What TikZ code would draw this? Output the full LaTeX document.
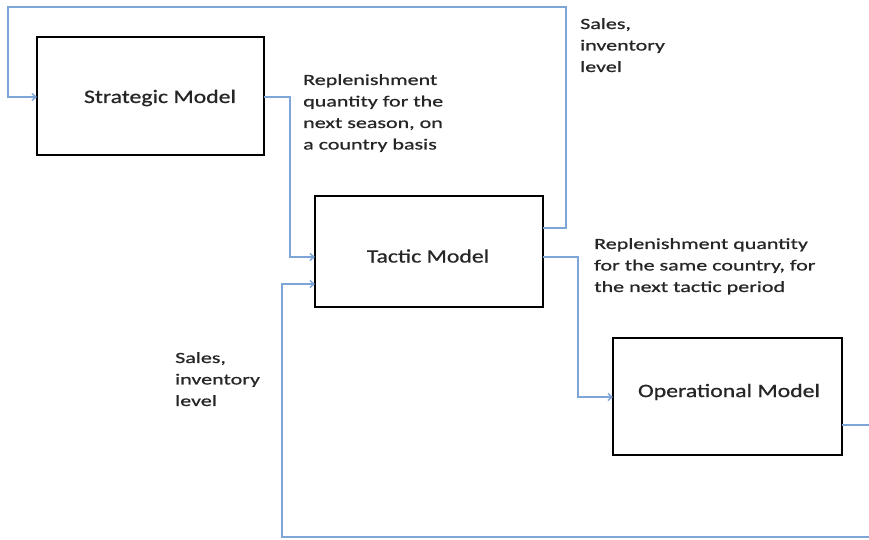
\documentclass[tikz,border=0pt]{standalone}
\usepackage{fontspec}
\setmainfont{Carlito}
\newfontfamily\lblfont{Carlito}[FakeStretch=1.42,FakeBold=0.8]
\newfontfamily\titlefont{Carlito}[FakeStretch=1.25,FakeBold=0.8]
\usetikzlibrary{arrows.meta}
\begin{document}
\begin{tikzpicture}[x=1pt,y=-1pt]
\definecolor{lineblue}{RGB}{125,165,215}
\tikzset{modelbox/.style={draw=black,line width=2pt,inner sep=0pt},
  flow/.style={draw=lineblue,line width=1.4pt,-{Straight Barb[length=4pt,width=7pt]}},
  lbl/.style={font=\lblfont\fontsize{15.5}{21.5}\selectfont,align=left,anchor=north west,inner sep=0pt,text=black!85},
  title/.style={font=\titlefont\fontsize{19}{22}\selectfont,text=black!85,inner sep=0pt}}
\path[use as bounding box] (0,0) rectangle (869,539);
\clip (0,0) rectangle (869,539);
% boxes
\draw[modelbox] (37,37) rectangle (264,155);
\draw[modelbox] (315,196) rectangle (543,307);
\draw[modelbox] (613,338) rectangle (842,455);
\coordinate (sL) at (37,97);
\coordinate (sR) at (264,97);
\coordinate (tL1) at (315,257);
\coordinate (tL2) at (315,284);
\coordinate (tR1) at (543,228);
\coordinate (tR2) at (543,257);
\coordinate (oL) at (613,397);
\coordinate (oR) at (842,425);
\node[title] (strat) at (160,98) {Strategic Model};
\node[title] (tact) at (428,256) {Tactic Model};
\node[title] (oper) at (729,392) {Operational Model};
% connectors
\draw[flow] (tR1) -- (566,228) -- (566,7) -- (8,7) -- (8,97) -- (sL);
\draw[flow] (sR) -- (290,97) -- (290,257) -- (tL1);
\draw[flow] (tR2) -- (578,257) -- (578,397) -- (oL);
\draw[flow] (oR) -- (880,425) -- (880,537) -- (282,537) -- (282,284) -- (tL2);
% labels
\node[lbl] (l1) at (580,18) {Sales,\\inventory\\level};
\node[lbl] (l2) at (303,74) {Replenishment\\quantity for the\\next season, on\\a country basis};
\node[lbl] (l3) at (594,238) {Replenishment quantity\\for the same country, for\\the next tactic period};
\node[lbl] (l4) at (175,352) {Sales,\\inventory\\level};
\end{tikzpicture}
\end{document}
